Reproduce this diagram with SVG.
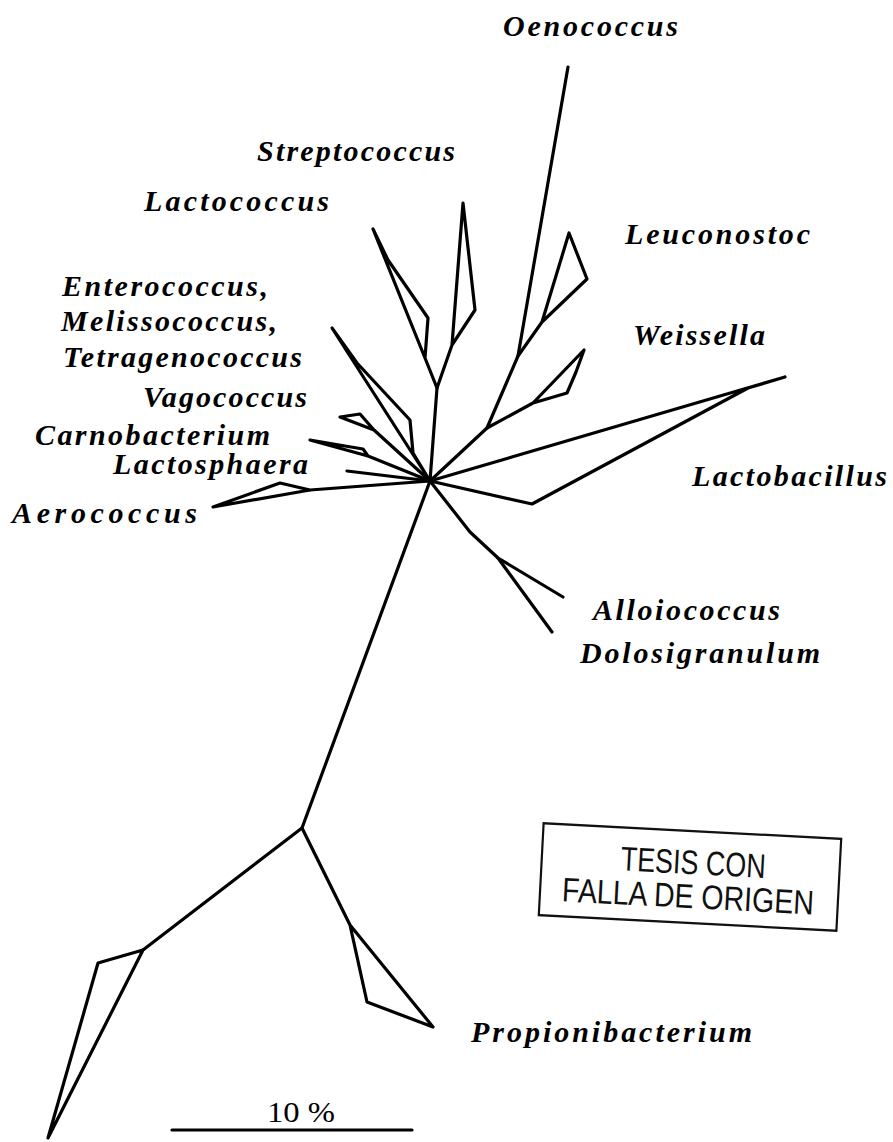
<svg xmlns="http://www.w3.org/2000/svg" width="893" height="1142" viewBox="0 0 893 1142">
<style>
.br{fill:none;stroke:#000;stroke-width:3.2;stroke-linejoin:round;stroke-linecap:round}
.lb{font-family:"Liberation Serif","Times New Roman",serif;font-weight:bold;font-style:italic;font-size:30px;fill:#000}
.sc{font-family:"Liberation Serif","Times New Roman",serif;font-size:30px;fill:#000}
.st{font-family:"Liberation Sans",Arial,sans-serif;font-size:34px;fill:#111}
</style>
<rect width="893" height="1142" fill="#fff"/>
<g id="connectors">
  <!-- Oenococcus / Leuconostoc / Weissella -->
  <polyline class="br" points="568,67 518,356 487,428 430,481"/>
  <polyline class="br" points="518,356 542,322 569,233 587,279 542,322"/>
  <polyline class="br" points="487,428 533,403 584,350 576,372 567,393 533,403"/>
  <!-- Streptococcus / Lactococcus -->
  <polyline class="br" points="430,481 437,388 452,345 463,203 475,310 452,345"/>
  <polyline class="br" points="437,388 425,358 373,229 388,260 428,318 425,358"/>
  <!-- Enterococcus group -->
  <polyline class="br" points="430,481 332,328 357,363 410,420 413,453 430,481"/>
  <!-- Vagococcus -->
  <polyline class="br" points="430,481 374,430 340,417 360,414 374,430"/>
  <!-- Carnobacterium -->
  <polyline class="br" points="430,481 368,456 310,440 345,446 363,449 368,456"/>
  <!-- Lactosphaera -->
  <polyline class="br" points="430,481 347,471"/>
  <!-- Aerococcus -->
  <polyline class="br" points="430,481 310,490 213,507 280,483 310,490"/>
  <!-- Lactobacillus -->
  <polyline class="br" points="430,481 785,377 748,388 532,504 430,481"/>
  <!-- Alloiococcus / Dolosigranulum -->
  <polyline class="br" points="430,481 470,532 498,558 563,597"/>
  <polyline class="br" points="498,558 552,632"/>
  <!-- trunk -->
  <polyline class="br" points="430,481 302,828 143,950"/>
  <polyline class="br" points="143,950 98,963 48,1138 143,950"/>
  <polyline class="br" points="302,828 350,925 433,1027 367,1002 350,925"/>
  <!-- scale bar -->
  <line class="br" x1="172" y1="1130" x2="412" y2="1130" stroke-linecap="butt"/>
</g>
<g id="n-oenococcus"><text class="lb" x="503" y="36" textLength="175" lengthAdjust="spacing">Oenococcus</text></g>
<g id="n-streptococcus"><text class="lb" x="257" y="161" textLength="198" lengthAdjust="spacing">Streptococcus</text></g>
<g id="n-lactococcus"><text class="lb" x="144" y="211" textLength="185" lengthAdjust="spacing">Lactococcus</text></g>
<g id="n-leuconostoc"><text class="lb" x="625" y="244" textLength="185" lengthAdjust="spacing">Leuconostoc</text></g>
<g id="n-weissella"><text class="lb" x="633" y="345" textLength="132" lengthAdjust="spacing">Weissella</text></g>
<g id="n-enterococcus">
  <text class="lb" x="62" y="296" textLength="206" lengthAdjust="spacing">Enterococcus,</text>
  <text class="lb" x="61" y="331" textLength="216" lengthAdjust="spacing">Melissococcus,</text>
  <text class="lb" x="63" y="367" textLength="239" lengthAdjust="spacing">Tetragenococcus</text>
</g>
<g id="n-vagococcus"><text class="lb" x="143" y="407" textLength="164" lengthAdjust="spacing">Vagococcus</text></g>
<g id="n-carnobacterium"><text class="lb" x="35" y="445" textLength="235" lengthAdjust="spacing">Carnobacterium</text></g>
<g id="n-lactosphaera"><text class="lb" x="113" y="474" textLength="195" lengthAdjust="spacing">Lactosphaera</text></g>
<g id="n-aerococcus"><text class="lb" x="12" y="523" textLength="185" lengthAdjust="spacing">Aerococcus</text></g>
<g id="n-lactobacillus"><text class="lb" x="692" y="486" textLength="195" lengthAdjust="spacing">Lactobacillus</text></g>
<g id="n-alloiococcus"><text class="lb" x="593" y="620" textLength="187" lengthAdjust="spacing">Alloiococcus</text></g>
<g id="n-dolosigranulum"><text class="lb" x="580" y="663" textLength="240" lengthAdjust="spacing">Dolosigranulum</text></g>
<g id="n-propionibacterium"><text class="lb" x="471" y="1042" textLength="281" lengthAdjust="spacing">Propionibacterium</text></g>
<g id="scale"><text class="sc" x="267" y="1122" textLength="68" lengthAdjust="spacingAndGlyphs">10 %</text></g>
<g id="stamp" transform="rotate(3 690 877)">
  <rect x="541" y="831" width="298" height="92" fill="none" stroke="#111" stroke-width="2.2"/>
  <text class="st" x="620" y="874" textLength="145" lengthAdjust="spacingAndGlyphs">TESIS CON</text>
  <text class="st" x="563" y="908" textLength="252" lengthAdjust="spacingAndGlyphs">FALLA DE ORIGEN</text>
</g>
</svg>
